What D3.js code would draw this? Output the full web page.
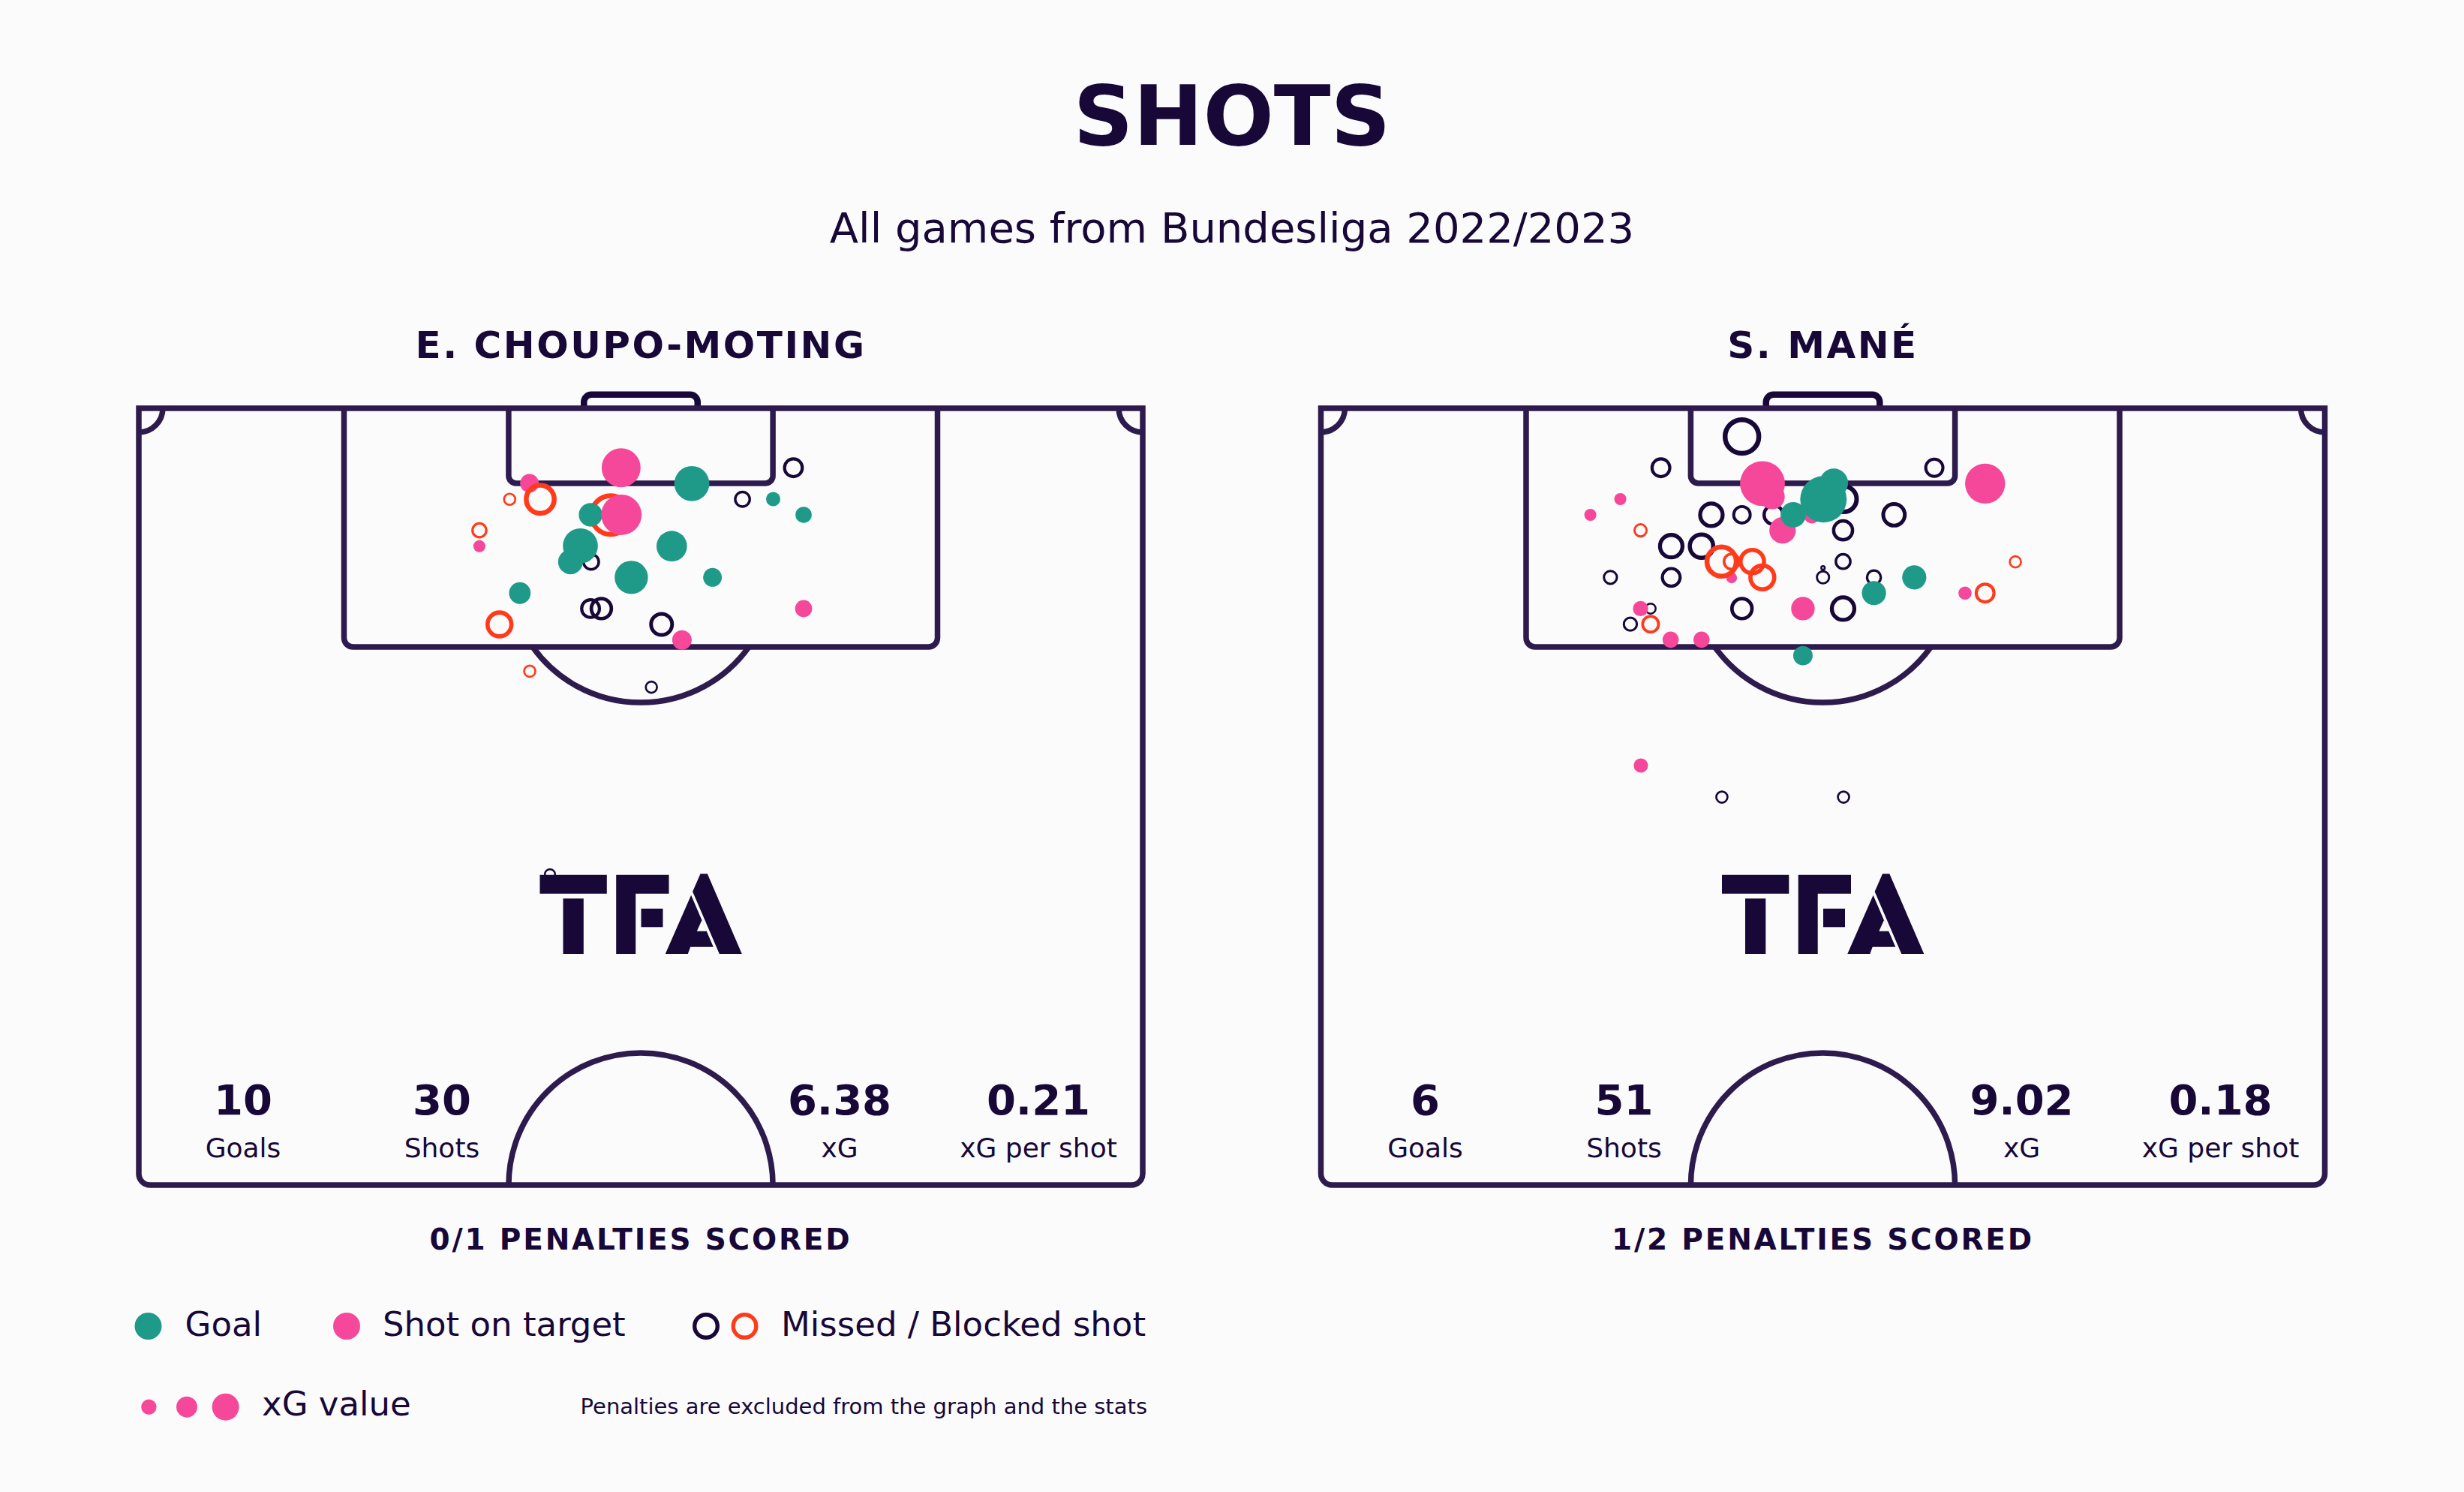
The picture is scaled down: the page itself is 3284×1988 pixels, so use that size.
<!DOCTYPE html>
<html><head><meta charset="utf-8">
<script src="https://cdn.jsdelivr.net/npm/d3@7"></script>
<style>html,body{margin:0;padding:0;background:#fbfbfc;}svg{display:block;}</style>
</head><body>
<svg id="chart" width="3284" height="1988"></svg>
<script>
// ---------------- DATA ----------------
const chartTitle = "SHOTS";
const chartSubtitle = "All games from Bundesliga 2022/2023";
const players = ["E. CHOUPO-MOTING", "S. MANÉ"];
const statLabels = ["Goals", "Shots", "xG", "xG per shot"];
const choupoStats = ["10", "30", "6.38", "0.21"];
const maneStats = ["6", "51", "9.02", "0.18"];
const penaltyLines = ["0/1 PENALTIES SCORED", "1/2 PENALTIES SCORED"];
// shots: [metres from left touchline, metres from goal line, xG, type]
// type: G = goal, T = shot on target, M = missed, B = blocked
const choupoShots = [
  [26.46, 5.07, 0.12, "T"], [25.12, 6.15, 0.06, "B"], [27.19, 6.15, 0.37, "B"],
  [32.67, 4.02, 0.52, "T"], [37.46, 5.09, 0.42, "G"], [31.96, 7.22, 0.65, "B"],
  [30.60, 7.20, 0.19, "G"], [32.69, 7.20, 0.56, "T"], [42.97, 6.14, 0.07, "G"],
  [40.89, 6.15, 0.10, "M"], [44.34, 4.02, 0.15, "M"], [45.03, 7.20, 0.09, "G"],
  [23.07, 8.25, 0.09, "B"], [23.07, 9.32, 0.05, "T"], [30.64, 10.38, 0.11, "M"],
  [29.24, 10.38, 0.21, "G"], [29.91, 9.30, 0.42, "G"], [36.10, 9.32, 0.32, "G"],
  [38.86, 11.43, 0.12, "G"], [33.36, 11.43, 0.38, "G"], [25.81, 12.49, 0.16, "G"],
  [30.60, 13.54, 0.15, "M"], [31.33, 13.54, 0.19, "M"], [45.03, 13.54, 0.10, "T"],
  [24.43, 14.61, 0.27, "B"], [35.41, 14.61, 0.21, "M"], [36.79, 15.66, 0.13, "T"],
  [26.48, 17.77, 0.06, "B"], [34.72, 18.85, 0.06, "M"], [27.85, 31.50, 0.05, "M"]
];
const maneShots = [
  [35.42, 6.14, 0.31, "M"], [30.66, 7.20, 0.17, "M"], [33.26, 7.24, 0.09, "T"],
  [31.27, 8.25, 0.24, "T"], [30.56, 5.97, 0.22, "T"], [29.91, 5.09, 0.69, "T"],
  [31.99, 7.20, 0.22, "G"], [34.04, 6.15, 0.74, "G"], [34.74, 5.04, 0.28, "G"],
  [28.52, 1.91, 0.51, "M"], [23.03, 4.02, 0.15, "M"], [41.55, 4.02, 0.14, "M"],
  [44.99, 5.09, 0.55, "T"], [20.28, 6.14, 0.05, "T"], [18.25, 7.20, 0.05, "T"],
  [26.45, 7.20, 0.24, "M"], [28.52, 7.20, 0.13, "M"], [38.82, 7.20, 0.22, "M"],
  [35.37, 8.25, 0.17, "M"], [21.65, 8.25, 0.07, "B"], [23.73, 9.32, 0.24, "M"],
  [25.78, 9.32, 0.26, "M"], [27.82, 11.46, 0.04, "T"], [27.14, 10.36, 0.40, "B"],
  [27.82, 10.36, 0.11, "B"], [29.22, 10.36, 0.26, "B"], [29.90, 11.43, 0.27, "B"],
  [35.37, 10.36, 0.10, "M"], [19.61, 11.43, 0.08, "M"], [23.73, 11.43, 0.15, "M"],
  [34.01, 11.43, 0.07, "M"], [34.01, 10.79, 0.01, "M"], [37.46, 11.43, 0.09, "M"],
  [40.19, 11.43, 0.20, "G"], [37.46, 12.49, 0.20, "G"], [47.04, 10.38, 0.06, "B"],
  [43.63, 12.49, 0.06, "T"], [44.99, 12.49, 0.15, "B"], [28.52, 13.54, 0.19, "M"],
  [32.65, 13.54, 0.19, "T"], [35.37, 13.54, 0.24, "M"], [22.33, 13.54, 0.05, "M"],
  [21.65, 13.54, 0.08, "T"], [20.96, 14.59, 0.08, "M"], [22.33, 14.59, 0.12, "B"],
  [23.69, 15.64, 0.09, "T"], [25.78, 15.64, 0.09, "T"], [32.65, 16.72, 0.13, "G"],
  [21.67, 24.15, 0.07, "T"], [27.16, 26.28, 0.06, "M"], [35.40, 26.28, 0.06, "M"]
];
const legendItems = [["Goal", ["G"]], ["Shot on target", ["T"]], ["Missed / Blocked shot", ["M", "B"]]];
const legendSizeXG = [0.08, 0.15, 0.25];
const legendSizeLabel = "xG value";
const footnote = "Penalties are excluded from the graph and the stats";

// ---------------- STYLE / LAYOUT ----------------
const C = {bg: "#fbfbfc", ink: "#170838", line: "#2d1b4e",
  G: "#1f9a89", T: "#f6489a", M: "#170838", B: "#ff3b1c"};
const FONT = "'DejaVu Sans', sans-serif";
const PITCH_W = 68, PITCH_L = 52.5;
const pitchLeft = [185, 1760.5], pitchTop = 544, pitchPxW = 1338, pitchPxH = 1035;
const LW = 7.5;

const svg = d3.select("#chart");
svg.append("rect").attr("width", 3284).attr("height", 1988).attr("fill", C.bg);

const rScale = d3.scaleSqrt().domain([0, 1]).range([0, 36]);

svg.append("text").text(chartTitle).attr("x", 1642).attr("y", 193)
  .attr("text-anchor", "middle").attr("font-family", FONT).attr("font-weight", "bold")
  .attr("font-size", 111).attr("fill", C.ink);
svg.append("text").text(chartSubtitle).attr("x", 1642).attr("y", 323)
  .attr("text-anchor", "middle").attr("font-family", FONT)
  .attr("font-size", 56).attr("fill", C.ink);

function drawShot(sel, d, x, y) {
  const R = rScale(d[2]);
  const c = sel.append("circle").attr("cx", x(d[0])).attr("cy", y(d[1]));
  if (d[3] === "G" || d[3] === "T") {
    c.attr("r", R).attr("fill", C[d[3]]);
  } else {
    const sw = Math.max(2.5, Math.min(0.3 * R, 6.5));
    c.attr("r", R - sw / 2).attr("fill", "none").attr("stroke", C[d[3]]).attr("stroke-width", sw);
  }
}

function drawPanel(i, name, shots, stats, pen) {
  const x = d3.scaleLinear().domain([0, PITCH_W]).range([pitchLeft[i], pitchLeft[i] + pitchPxW]);
  const y = d3.scaleLinear().domain([0, PITCH_L]).range([pitchTop, pitchTop + pitchPxH]);
  const ky = pitchPxH / PITCH_L;
  const g = svg.append("g");
  const cx = x(PITCH_W / 2);
  const xl = x(0), xr = x(PITCH_W), yt = y(0), yb = y(PITCH_L);

  // goal
  const gxl = x(30.15), gxr = x(37.85), gyt = y(-0.92), gr = 10;
  g.append("path").attr("d",
    `M${gxl},${yt} L${gxl},${gyt + gr} A${gr},${gr} 0 0 1 ${gxl + gr},${gyt} L${gxr - gr},${gyt} A${gr},${gr} 0 0 1 ${gxr},${gyt + gr} L${gxr},${yt}`)
    .attr("fill", "none").attr("stroke", C.ink).attr("stroke-width", 8.5);

  const lines = g.append("g").attr("fill", "none").attr("stroke", C.line).attr("stroke-width", LW);
  const ro = 15;
  lines.append("path").attr("d",
    `M${xl},${yt} L${xr},${yt} L${xr},${yb - ro} A${ro},${ro} 0 0 1 ${xr - ro},${yb} L${xl + ro},${yb} A${ro},${ro} 0 0 1 ${xl},${yb - ro} Z`);
  function box(a, b, depth, rad) {
    const l = x(a), r = x(b), bt = y(depth);
    return `M${l},${yt} L${l},${bt - rad} A${rad},${rad} 0 0 0 ${l + rad},${bt} L${r - rad},${bt} A${rad},${rad} 0 0 0 ${r},${bt - rad} L${r},${yt}`;
  }
  lines.append("path").attr("d", box(13.9, 54.1, 16.13, 12));
  lines.append("path").attr("d", box(25.05, 42.95, 5.07, 10));
  // penalty arc
  const spotY = y(10.91), arcR = 8.98 * ky, penB = y(16.13);
  const dx = Math.sqrt(arcR * arcR - (penB - spotY) * (penB - spotY));
  lines.append("path").attr("d", `M${cx - dx},${penB} A${arcR},${arcR} 0 0 0 ${cx + dx},${penB}`);
  // centre circle
  const ccR = 8.93 * ky;
  lines.append("path").attr("d", `M${cx - ccR},${yb} A${ccR},${ccR} 0 0 1 ${cx + ccR},${yb}`);
  // corner arcs
  const cr = 1.62 * ky;
  lines.append("path").attr("d", `M${xl},${yt + cr} A${cr},${cr} 0 0 0 ${xl + cr},${yt}`);
  lines.append("path").attr("d", `M${xr - cr},${yt} A${cr},${cr} 0 0 0 ${xr},${yt + cr}`);

  // logo
  const logo = g.append("g").attr("transform", `translate(${cx},0)`).attr("fill", C.ink);
  const poly = pts => "M" + pts.map(p => p.join(",")).join("L") + "Z";
  logo.append("path").attr("d", poly([[-134.5, 1165.7], [-45.2, 1165.7], [-45.2, 1190.7], [-134.5, 1190.7]]));
  logo.append("path").attr("d", poly([[-103.5, 1197.3], [-76.2, 1197.3], [-76.2, 1271], [-103.5, 1271]]));
  logo.append("path").attr("d", poly([[-32.8, 1165.7], [37.5, 1165.7], [37.5, 1190.7], [-6.8, 1190.7], [-6.8, 1271], [-32.8, 1271]]));
  logo.append("path").attr("d", poly([[0.5, 1210.7], [29.5, 1210.7], [29.5, 1235.3], [0.5, 1235.3]]));
  logo.append("path").attr("d", poly([[79.5, 1164.3], [88.8, 1164.3], [134.8, 1271], [104.8, 1271], [69.1, 1188.1]]));
  logo.append("path").attr("fill-rule", "evenodd").attr("d",
    poly([[67.1, 1192.7], [96.8, 1261.7], [66.2, 1261.7], [62.8, 1271], [32.8, 1271]]) +
    poly([[74.8, 1240.7], [87.8, 1240.7], [81.5, 1226]]));

  // shots
  const sg = g.append("g");
  shots.forEach(d => drawShot(sg, d, x, y));

  // name
  g.append("text").text(name).attr("x", cx).attr("y", 477).attr("text-anchor", "middle")
    .attr("font-family", FONT).attr("font-weight", "bold").attr("font-size", 50)
    .attr("letter-spacing", 2.5).attr("fill", C.ink);

  // stats
  const sx = d3.scalePoint().domain(statLabels).range([cx - 530, cx + 530]);
  const offs = [-530, -265, 265, 530];
  statLabels.forEach((lab, k) => {
    g.append("text").text(stats[k]).attr("x", cx + offs[k]).attr("y", 1485).attr("text-anchor", "middle")
      .attr("font-family", FONT).attr("font-weight", "bold").attr("font-size", 56).attr("fill", C.ink);
    g.append("text").text(lab).attr("x", cx + offs[k]).attr("y", 1542).attr("text-anchor", "middle")
      .attr("font-family", FONT).attr("font-size", 36).attr("fill", C.ink);
  });
  g.append("text").text(pen).attr("x", cx).attr("y", 1665).attr("text-anchor", "middle")
    .attr("font-family", FONT).attr("font-weight", "bold").attr("font-size", 39)
    .attr("letter-spacing", 2.8).attr("fill", C.ink);
}

drawPanel(0, players[0], choupoShots, choupoStats, penaltyLines[0]);
drawPanel(1, players[1], maneShots, maneStats, penaltyLines[1]);

// legend
const lg = svg.append("g");
const legDotX = [[197.5], [462], [941, 992.5]];
const legTextX = [246.6, 510, 1041];
legendItems.forEach((it, k) => {
  it[1].forEach((t, j) => {
    drawShot(lg, [0, 0, 0.25, t], () => legDotX[k][j], () => 1767);
  });
  lg.append("text").text(it[0]).attr("x", legTextX[k]).attr("y", 1779.5)
    .attr("font-family", FONT).attr("font-size", 45).attr("fill", C.ink);
});
const sizeX = [198.4, 249, 300.6];
legendSizeXG.forEach((v, k) => drawShot(lg, [0, 0, v, "T"], () => sizeX[k], () => 1874.7));
lg.append("text").text(legendSizeLabel).attr("x", 349).attr("y", 1886)
  .attr("font-family", FONT).attr("font-size", 45).attr("fill", C.ink);
lg.append("text").text(footnote).attr("x", 1529).attr("y", 1884).attr("text-anchor", "end")
  .attr("font-family", FONT).attr("font-size", 29).attr("fill", C.ink);
</script>
</body></html>
